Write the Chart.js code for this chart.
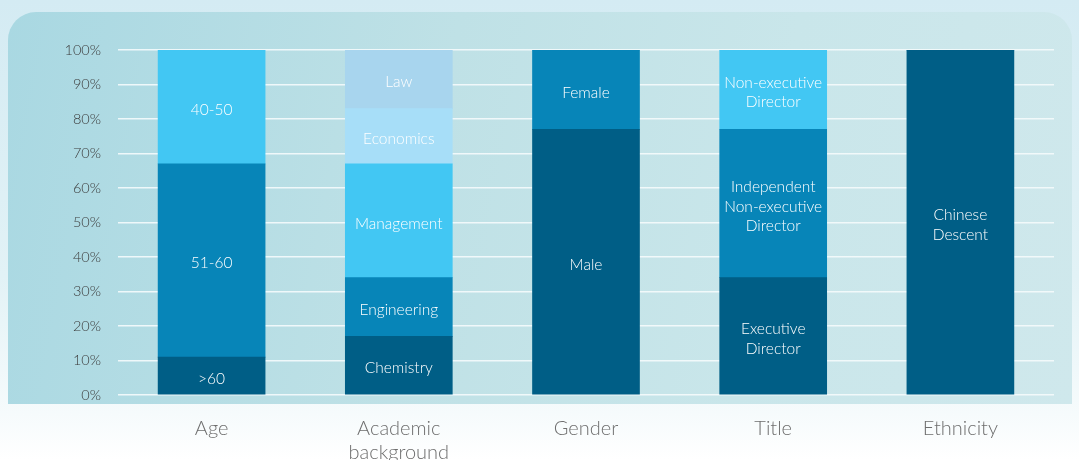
<!DOCTYPE html>
<html>
<head>
<meta charset="utf-8">
<script src="https://cdn.jsdelivr.net/npm/chart.js@4"></script>
<style>
  html, body { margin: 0; padding: 0; }
  body {
    width: 1079px; height: 460px; overflow: hidden; position: relative;
    background: linear-gradient(180deg, #d4ebf3 0%, #e2f2f6 60%, #f6fbfc 90%, #ffffff 100%);
  }
  .panel {
    position: absolute; left: 8px; top: 12px; width: 1064px; height: 392px;
    border-radius: 28px 28px 0 0;
    background: linear-gradient(100deg, #a9d8e2 0%, #bfe1e6 40%, #c9e6ea 70%, #cfe8ec 100%);
  }
  canvas { position: absolute; left: 0; top: 0; }
</style>
</head>
<body>
<div class="panel"></div>
<canvas id="boardChart" width="1079" height="460"></canvas>
<script>
// Categories along the x axis
const categories = ['Age', ['Academic', 'background'], 'Gender', 'Title', 'Ethnicity'];

// Stack tiers, bottom to top (percent of board)
const tier1Names = ['>60', 'Chemistry', 'Male', ['Executive', 'Director'], ['Chinese', 'Descent']];
const tier1Values = [11, 17, 77, 34, 100];
const tier2Names = ['51-60', 'Engineering', 'Female', ['Independent', 'Non-executive', 'Director'], ''];
const tier2Values = [56, 17, 23, 43, 0];
const tier3Names = ['40-50', 'Management', '', ['Non-executive', 'Director'], ''];
const tier3Values = [33, 33, 0, 23, 0];
const tier4Names = ['', 'Economics', '', '', ''];
const tier4Values = [0, 16, 0, 0, 0];
const tier5Names = ['', 'Law', '', '', ''];
const tier5Values = [0, 17, 0, 0, 0];

const yTicks = [0, 10, 20, 30, 40, 50, 60, 70, 80, 90, 100];

const tierColors = ['#005e86', '#0785b8', '#42c7f3', '#a7def8', '#a8d5ee'];

function tier(names, values, color) {
    return {
        data: values,
        segLabels: names,
        backgroundColor: color,
        borderWidth: 0,
        barThickness: 107
    };
}

// draws the text inside each bar segment
const segmentLabels = {
    id: 'segmentLabels',
    afterDatasetsDraw(chart) {
        const ctx = chart.ctx;
        ctx.save();
        ctx.fillStyle = '#ffffff';
        ctx.font = '300 15.5px Lato, "Open Sans", sans-serif';
        ctx.textAlign = 'center';
        ctx.textBaseline = 'middle';
        chart.data.datasets.forEach((ds, di) => {
            chart.getDatasetMeta(di).data.forEach((bar, i) => {
                const text = ds.segLabels[i];
                if (!text || !ds.data[i]) return;
                const p = bar.getProps(['x', 'y', 'base'], true);
                const lines = Array.isArray(text) ? text : [text];
                const lh = 19.5;
                const cy = (p.y + p.base) / 2 + 3 - (lines.length - 1) * lh / 2;
                lines.forEach((ln, k) => ctx.fillText(ln, p.x, cy + k * lh));
            });
        });
        ctx.restore();
    }
};

window.onload = function () {
    const ctx = document.getElementById('boardChart').getContext('2d');
    new Chart(ctx, {
        type: 'bar',
        data: {
            labels: categories,
            datasets: [
                tier(tier1Names, tier1Values, tierColors[0]),
                tier(tier2Names, tier2Values, tierColors[1]),
                tier(tier3Names, tier3Values, tierColors[2]),
                tier(tier4Names, tier4Values, tierColors[3]),
                tier(tier5Names, tier5Values, tierColors[4])
            ]
        },
        options: {
            responsive: false,
            animation: false,
            layout: { padding: { top: 50, right: 25, left: 0, bottom: 0 } },
            plugins: {
                legend: { display: false },
                tooltip: { enabled: false }
            },
            scales: {
                x: {
                    stacked: true,
                    grid: { display: false },
                    border: { display: false },
                    ticks: {
                        padding: 14,
                        color: '#6e6e6e',
                        font: { family: 'Lato, "Open Sans", sans-serif', size: 20, weight: '300', lineHeight: 1.2 }
                    },
                    afterFit(scale) { scale.height = 65; }
                },
                y: {
                    stacked: true,
                    min: 0,
                    max: 100,
                    afterBuildTicks(scale) { scale.ticks = yTicks.map(v => ({ value: v })); },
                    grid: { color: 'rgba(245,251,252,0.9)', lineWidth: 1.6, drawTicks: false },
                    border: { display: false },
                    ticks: {
                        padding: 17,
                        color: '#3c3c3c',
                        font: { family: 'Lato, "Open Sans", sans-serif', size: 14.5, weight: '300' },
                        callback: v => v + '%'
                    },
                    afterFit(scale) { scale.width = 118; }
                }
            }
        },
        plugins: [segmentLabels]
    });
};
</script>
</body>
</html>
